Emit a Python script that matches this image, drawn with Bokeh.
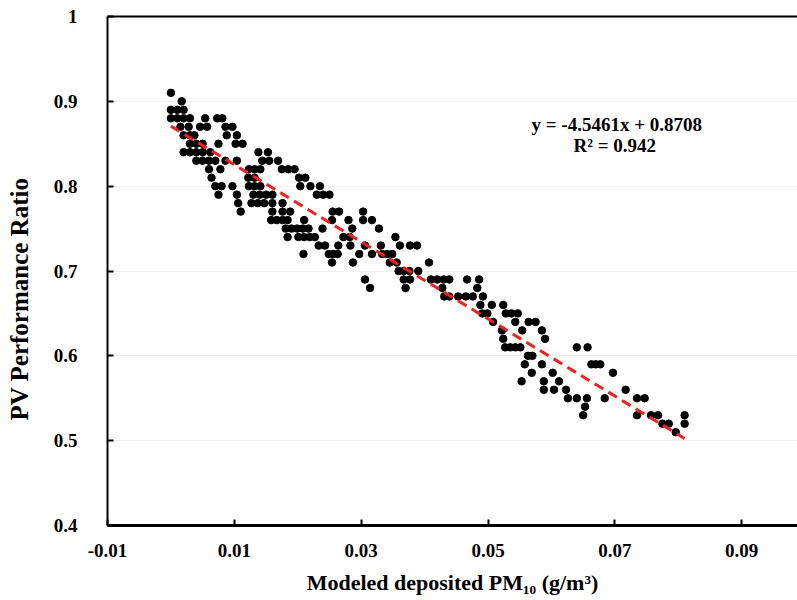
from bokeh.plotting import figure
from bokeh.models import Range1d, FixedTicker, LinearAxis, Label
from bokeh.embed import file_html
from bokeh.resources import INLINE

# ---- data: modeled deposited PM10 (x) for each PV performance ratio level (y) ----
ratio_levels = [0.91, 0.90, 0.89, 0.88, 0.87, 0.86, 0.85, 0.84, 0.83, 0.82, 0.81, 0.80,
                0.79, 0.78, 0.77, 0.76, 0.75, 0.74, 0.73, 0.72, 0.71, 0.70, 0.69, 0.68,
                0.67, 0.66, 0.65, 0.64, 0.63, 0.62, 0.61, 0.60, 0.59, 0.58, 0.57, 0.56,
                0.55, 0.54, 0.53, 0.52, 0.51]
pm_091 = [0.000]
pm_090 = [0.0017]
pm_089 = [0.000, 0.001, 0.002]
pm_088 = [0.000, 0.001, 0.002, 0.003, 0.0054, 0.0073, 0.0081]
pm_087 = [0.0015, 0.0028, 0.0046, 0.0057, 0.0086, 0.0097]
pm_086 = [0.002, 0.003, 0.0037, 0.0088, 0.0104]
pm_085 = [0.003, 0.004, 0.005, 0.0075, 0.0102, 0.0113]
pm_084 = [0.002, 0.003, 0.004, 0.005, 0.0062, 0.0138, 0.0153]
pm_083 = [0.004, 0.005, 0.006, 0.007, 0.0086, 0.0104, 0.0144, 0.0155, 0.0169]
pm_082 = [0.006, 0.0078, 0.0123, 0.0132, 0.0141, 0.0175, 0.0185, 0.0195]
pm_081 = [0.0064, 0.0122, 0.0132, 0.0202, 0.0212]
pm_080 = [0.007, 0.008, 0.0097, 0.0123, 0.0132, 0.0141, 0.0204, 0.022, 0.0235]
pm_079 = [0.0075, 0.0104, 0.013, 0.014, 0.015, 0.016, 0.023, 0.024, 0.025]
pm_078 = [0.0106, 0.0127, 0.0137, 0.0147, 0.016, 0.0176]
pm_077 = [0.011, 0.016, 0.0176, 0.0188, 0.0255, 0.0265, 0.0303]
pm_076 = [0.0158, 0.0167, 0.0176, 0.0184, 0.021, 0.0254, 0.028, 0.0303, 0.0317]
pm_075 = [0.0181, 0.019, 0.0199, 0.0208, 0.0217, 0.0239, 0.0286, 0.0328]
pm_074 = [0.0184, 0.0201, 0.021, 0.0219, 0.0227, 0.0272, 0.0282, 0.0354]
pm_073 = [0.0233, 0.0243, 0.0264, 0.0283, 0.0306, 0.0331, 0.0361, 0.0377, 0.0388]
pm_072 = [0.0209, 0.0249, 0.0256, 0.0263, 0.0297, 0.0317, 0.0333, 0.0341, 0.0349]
pm_071 = [0.0254, 0.0287, 0.0345, 0.0356, 0.0407]
pm_070 = [0.0359, 0.0367, 0.0376, 0.039]
pm_069 = [0.0306, 0.0367, 0.0377, 0.041, 0.042, 0.043, 0.0439, 0.0467, 0.0486]
pm_068 = [0.0314, 0.037, 0.0428, 0.0483]
pm_067 = [0.0431, 0.0439, 0.0453, 0.0465, 0.0476, 0.0492]
pm_066 = [0.0488, 0.0506, 0.0524]
pm_065 = [0.0491, 0.0499, 0.0528, 0.0537, 0.0547]
pm_064 = [0.0508, 0.0543, 0.0564, 0.0575]
pm_063 = [0.0522, 0.0554, 0.0585]
pm_062 = [0.0524, 0.059]
pm_061 = [0.0527, 0.0535, 0.0543, 0.0551, 0.064, 0.0657]
pm_060 = [0.0563, 0.057]
pm_059 = [0.0558, 0.0585, 0.0663, 0.067, 0.0677]
pm_058 = [0.0569, 0.0602, 0.0697]
pm_057 = [0.0553, 0.0588, 0.0612]
pm_056 = [0.0588, 0.0604, 0.0623, 0.0717]
pm_055 = [0.0626, 0.064, 0.0656, 0.0684, 0.0735, 0.0747]
pm_054 = [0.0653]
pm_053 = [0.065, 0.0735, 0.0757, 0.0768, 0.081]
pm_052 = [0.0775, 0.0785, 0.081]
pm_051 = [0.0796]

pm_rows = [pm_091, pm_090, pm_089, pm_088, pm_087, pm_086, pm_085, pm_084, pm_083,
           pm_082, pm_081, pm_080, pm_079, pm_078, pm_077, pm_076, pm_075, pm_074,
           pm_073, pm_072, pm_071, pm_070, pm_069, pm_068, pm_067, pm_066, pm_065,
           pm_064, pm_063, pm_062, pm_061, pm_060, pm_059, pm_058, pm_057, pm_056,
           pm_055, pm_054, pm_053, pm_052, pm_051]

# linear fit shown on chart
fit_slope = -4.5461
fit_intercept = 0.8708
fit_r2 = 0.942
fit_x = [0.0, 0.081]

x_ticks = [-0.01, 0.01, 0.03, 0.05, 0.07, 0.09]
x_tick_labels = ["-0.01", "0.01", "0.03", "0.05", "0.07", "0.09"]
y_ticks = [0.4, 0.5, 0.6, 0.7, 0.8, 0.9, 1.0]
y_tick_labels = ["0.4", "0.5", "0.6", "0.7", "0.8", "0.9", "1"]

# ---- build ----
xs, ys = [], []
for lvl, row in zip(ratio_levels, pm_rows):
    for v in row:
        xs.append(v)
        ys.append(lvl)
fit_y = [fit_slope * v + fit_intercept for v in fit_x]

FONT = "Liberation Serif"

p = figure(width=797, height=600, output_backend="svg", toolbar_location=None,
           x_range=Range1d(-0.01, 0.0988), y_range=Range1d(0.4, 1.0),
           min_border_left=107, min_border_right=0, min_border_top=16, min_border_bottom=75)
p.outline_line_color = None
p.background_fill_color = "white"
p.border_fill_color = "white"

xa = p.xaxis[0]
ya = p.yaxis[0]
xa.ticker = FixedTicker(ticks=x_ticks)
ya.ticker = FixedTicker(ticks=y_ticks)
xa.major_label_overrides = dict(zip(x_ticks, x_tick_labels))
ya.major_label_overrides = dict(zip(y_ticks, y_tick_labels))
for ax in (xa, ya):
    ax.axis_line_color = "black"
    ax.major_tick_line_color = "black"
    ax.major_tick_line_width = 2
    ax.major_tick_in = 6
    ax.major_tick_out = 0
    ax.minor_tick_line_color = None
    ax.major_label_text_font = FONT
    ax.major_label_text_font_style = "bold"
    ax.major_label_text_font_size = "19px"
    ax.major_label_text_color = "black"
    ax.axis_label_text_font = FONT
    ax.axis_label_text_font_style = "bold"
    ax.axis_label_text_color = "black"
xa.axis_line_width = 3
ya.axis_line_width = 2
xa.major_label_standoff = 18
ya.major_label_standoff = 30
xa.axis_label = "Modeled deposited PM\u2081\u2080 (g/m\u00b3)"
xa.axis_label_text_font_size = "22px"
xa.axis_label_standoff = 10
# trailing no-break spaces push the rotated title slightly below the frame centre, as in the original
ya.axis_label = "PV Performance Ratio" + "\u00a0" * 9
ya.axis_label_text_font_size = "25px"
ya.axis_label_standoff = 18

top = LinearAxis(ticker=FixedTicker(ticks=[]), axis_line_width=2, axis_line_color="black",
                 major_tick_line_color=None, minor_tick_line_color=None)
p.add_layout(top, "above")

p.xgrid.visible = False
p.ygrid.ticker = FixedTicker(ticks=y_ticks)
p.ygrid.grid_line_color = "#efefef"
p.ygrid.grid_line_width = 1

p.scatter(xs, ys, size=7.5, fill_color="black", line_color="black")
p.line(fit_x, fit_y, line_color="#ff1a1a", line_width=3, line_dash="10 6")

p.add_layout(Label(x=0.0703, y=0.8727, text="y = -4.5461x + 0.8708",
                   text_font=FONT, text_font_style="bold", text_font_size="19px",
                   text_align="center", text_baseline="middle", text_color="black"))
p.add_layout(Label(x=0.0700, y=0.848, text="R\u00b2 = %.3f" % fit_r2,
                   text_font=FONT, text_font_style="bold", text_font_size="19px",
                   text_align="center", text_baseline="middle", text_color="black"))

open("out.html", "w").write(file_html(p, INLINE))
